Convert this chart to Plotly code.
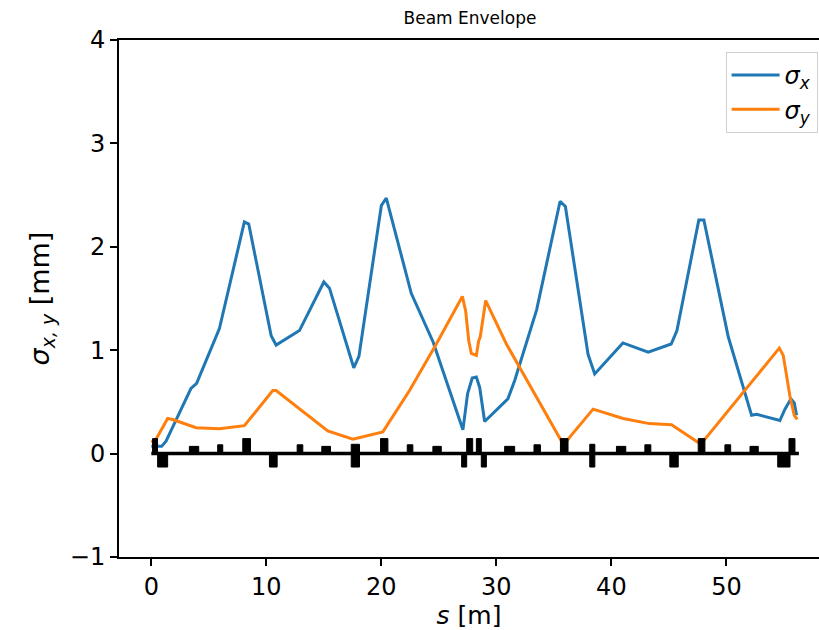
import plotly.graph_objects as go

# ---- beam envelope data ----
s_x = [0.0, 0.9, 1.28, 3.45, 3.94, 5.92, 8.09, 8.47, 10.42, 10.85, 12.88, 15.0, 15.49,
       17.6, 18.05, 20.0, 20.43, 22.6, 24.5, 27.09, 27.5, 27.9, 28.26, 28.55, 28.98,
       31.0, 31.6, 33.5, 35.54, 36.0, 37.97, 38.55, 41.0, 43.2, 45.2, 45.7, 47.6, 48.04,
       50.16, 52.19, 52.63, 54.65, 55.09, 55.61, 55.9, 56.1]
sigma_x = [0.07, 0.07, 0.12, 0.63, 0.68, 1.21, 2.24, 2.22, 1.14, 1.05, 1.19, 1.66, 1.60,
           0.83, 0.94, 2.40, 2.47, 1.55, 1.08, 0.23, 0.58, 0.73, 0.74, 0.64, 0.31,
           0.53, 0.71, 1.39, 2.44, 2.39, 0.96, 0.77, 1.07, 0.98, 1.06, 1.19, 2.26, 2.26,
           1.13, 0.37, 0.38, 0.32, 0.43, 0.53, 0.49, 0.37]

s_y = [0.0, 0.41, 1.42, 1.85, 3.89, 5.92, 8.09, 10.56, 10.85, 12.88, 15.34, 17.52, 20.13,
       22.45, 24.78, 27.04, 27.33, 27.6, 27.82, 28.26, 28.46, 28.6, 29.07, 30.87, 35.86,
       36.38, 38.41, 41.02, 43.3, 45.23, 47.78, 48.28, 52.33, 54.6, 54.94, 55.53, 55.9, 56.16]
sigma_y = [0.11, 0.14, 0.34, 0.33, 0.25, 0.24, 0.27, 0.61, 0.61, 0.43, 0.22, 0.14, 0.21,
           0.61, 1.06, 1.52, 1.38, 1.09, 0.97, 0.95, 1.09, 1.13, 1.48, 1.06, 0.08,
           0.16, 0.43, 0.34, 0.29, 0.28, 0.09, 0.16, 0.71, 1.02, 0.95, 0.55, 0.37, 0.33]

# ---- lattice elements (start, end, height) ----
elem_start = [0.11, 7.95, 19.93, 27.42, 28.26, 35.57, 47.55, 55.44,
              0.55, 10.27, 17.38, 26.98, 28.69, 38.12, 45.08, 54.46,
              3.31, 14.82, 24.48, 30.72, 40.44, 52.05,
              5.77, 12.68, 22.25, 33.27, 42.91, 49.87,
              17.38, 38.12]
elem_end = [0.54, 8.62, 20.57, 27.94, 28.69, 36.23, 48.13, 55.96,
            1.42, 10.94, 18.10, 27.42, 29.13, 38.56, 45.81, 55.53,
            4.12, 15.58, 25.21, 31.59, 41.25, 52.77,
            6.21, 13.17, 22.74, 33.83, 43.43, 50.37,
            18.10, 38.56]
elem_height = [0.145] * 8 + [-0.13] * 8 + [0.07] * 6 + [0.085] * 6 + [0.09] * 2
lattice_s = [0.0, 56.3]
lattice_y = [0.0, 0.0]

x_ticks = [0, 10, 20, 30, 40, 50]
y_ticks = [-1, 0, 1, 2, 3, 4]

# polygon path for lattice elements
px, py = [], []
for a, b, h in zip(elem_start, elem_end, elem_height):
    px += [a, b, b, a, a, None]
    py += [0, 0, h, h, 0, None]

fig = go.Figure()
fig.add_trace(go.Scatter(x=s_x, y=sigma_x, mode="lines", name="<i>σ</i><sub><i>x</i></sub>",
                         line=dict(color="#1f77b4", width=3)))
fig.add_trace(go.Scatter(x=s_y, y=sigma_y, mode="lines", name="<i>σ</i><sub><i>y</i></sub>",
                         line=dict(color="#ff7f0e", width=3)))
fig.add_trace(go.Scatter(x=lattice_s, y=lattice_y, mode="lines", showlegend=False,
                         line=dict(color="black", width=3.5), hoverinfo="skip"))
fig.add_trace(go.Scatter(x=px, y=py, mode="lines", fill="toself", fillcolor="black",
                         line=dict(color="black", width=1), showlegend=False, hoverinfo="skip"))

font = "DejaVu Sans"
fig.update_layout(
    width=819, height=630,
    margin=dict(l=119, r=0, t=40, b=73),
    paper_bgcolor="white", plot_bgcolor="white",
    font=dict(family=font, color="black"),
    title=dict(text="Beam Envelope", x=(470 - 119) / 700, xref="paper", xanchor="center",
               y=1 - 18 / 630, yref="container", yanchor="middle",
               font=dict(size=17, family=font, color="black")),
    showlegend=True,
    legend=dict(x=0.998, y=0.977, xanchor="right", yanchor="top",
                bgcolor="white", bordercolor="#d0d0d0", borderwidth=1,
                font=dict(size=24, family=font, color="black"),
                itemwidth=48, tracegroupgap=2),
    xaxis=dict(range=[-2.81, 58.05], tickvals=x_ticks, ticktext=[str(v) for v in x_ticks],
               showgrid=False, zeroline=False, showline=True, linecolor="black", linewidth=2,
               mirror=True, ticks="outside", ticklen=7, tickwidth=2, tickcolor="black",
               tickfont=dict(size=24, family=font, color="black"),
               title=dict(text="<i>s</i> [m]", font=dict(size=25, family=font, color="black"),
                          standoff=4)),
    yaxis=dict(range=[-1, 4], tickvals=y_ticks, ticktext=["−1", "0", "1", "2", "3", "4"],
               showgrid=False, zeroline=False, showline=True, linecolor="black", linewidth=2,
               ticks="outside", ticklen=7, tickwidth=2, tickcolor="black",
               tickfont=dict(size=24, family=font, color="black"),
               title=dict(text="<i>σ</i><sub><i>x, y</i></sub> [mm]",
                          font=dict(size=27, family=font, color="black"), standoff=12)),
)

fig.write_html("out.html")
